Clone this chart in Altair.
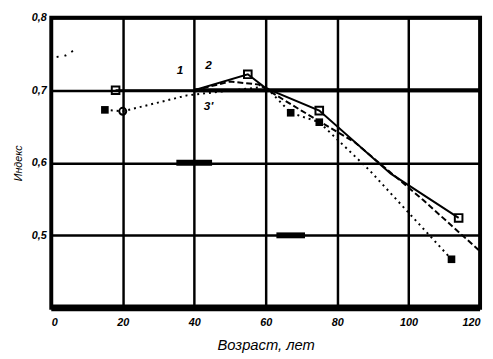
import altair as alt
import pandas as pd

# Curve 1 (solid, open squares)
ages1 = [18, 40, 55, 60, 75, 95, 114]
vals1 = [0.700, 0.700, 0.722, 0.703, 0.672, 0.585, 0.524]
# Curve 2 (dashed)
ages2 = [40, 50, 58, 70, 85, 104, 120]
vals2 = [0.700, 0.712, 0.708, 0.672, 0.628, 0.549, 0.478]
# Curve 3 (dotted, filled squares)
ages3 = [15, 20, 38, 60, 67, 75, 89, 112]
vals3 = [0.673, 0.671, 0.693, 0.705, 0.669, 0.656, 0.590, 0.467]
# short fragment at top-left
agesf = [1.5, 4, 7]
valsf = [0.746, 0.748, 0.757]

open_sq_age = [18, 55, 75, 114]
open_sq_val = [0.700, 0.722, 0.672, 0.524]
fill_sq_age = [15, 67, 75, 112]
fill_sq_val = [0.673, 0.669, 0.656, 0.467]
circ_age = [20]
circ_val = [0.671]

lab_text = ["1", "2", "3'"]
lab_age = [36, 44, 44]
lab_val = [0.728, 0.735, 0.678]

# thick printed segments on the grid
seg_x1 = [40, 35, 63, 0]
seg_x2 = [120, 45, 71, 120]
seg_y = [0.7, 0.6, 0.5, 0.4]
seg_w = [4, 6, 6, 7]

x_ticks = [0, 20, 40, 60, 80, 100, 120]
y_ticks = [0.5, 0.6, 0.7, 0.8]

FONT = "Liberation Sans"

xs = alt.Scale(domain=[0, 120], nice=False)
ys = alt.Scale(domain=[0.4, 0.8], nice=False, zero=False)

def curve(a, v):
    return pd.DataFrame({"age": a, "val": v})

X = alt.X("age:Q", scale=xs,
          axis=alt.Axis(values=x_ticks, title="Возраст, лет", grid=True,
                        labelExpr="datum.value"))
Y = alt.Y("val:Q", scale=ys,
          axis=alt.Axis(values=y_ticks, title="Индекс", grid=True,
                        labelExpr="replace(format(datum.value, '.1f'), '.', ',')"))

c1 = alt.Chart(curve(ages1, vals1)).mark_line(color="black", strokeWidth=2).encode(x=X, y=Y)
c2 = alt.Chart(curve(ages2, vals2)).mark_line(color="black", strokeWidth=2, strokeDash=[6, 3]).encode(x="age:Q", y="val:Q")
c3 = alt.Chart(curve(ages3, vals3)).mark_line(color="black", strokeWidth=2, strokeDash=[2, 4]).encode(x="age:Q", y="val:Q")
cf = alt.Chart(curve(agesf, valsf)).mark_line(color="black", strokeWidth=2, strokeDash=[2, 6]).encode(x="age:Q", y="val:Q")

segs = pd.DataFrame({"x1": seg_x1, "x2": seg_x2, "y": seg_y, "w": seg_w})
seg = alt.Chart(segs).mark_rule(color="black").encode(
    x="x1:Q", x2="x2:Q", y="y:Q",
    strokeWidth=alt.StrokeWidth("w:Q", scale=None))

osq = alt.Chart(curve(open_sq_age, open_sq_val)).mark_point(
    shape="square", filled=False, color="black", size=60, strokeWidth=2, opacity=1).encode(x="age:Q", y="val:Q")
fsq = alt.Chart(curve(fill_sq_age, fill_sq_val)).mark_point(
    shape="square", filled=True, color="black", size=60, opacity=1).encode(x="age:Q", y="val:Q")
circ = alt.Chart(curve(circ_age, circ_val)).mark_point(
    shape="circle", filled=False, color="black", size=50, strokeWidth=2, opacity=1).encode(x="age:Q", y="val:Q")

labs = alt.Chart(pd.DataFrame({"t": lab_text, "age": lab_age, "val": lab_val})).mark_text(
    font=FONT, fontSize=12, fontWeight="bold", fontStyle="italic", color="black").encode(
    x="age:Q", y="val:Q", text="t:N")

chart = alt.layer(c1, seg, c2, c3, cf, osq, fsq, circ, labs).properties(
    width=436, height=295,
    autosize=alt.AutoSizeParams(type="none"),
    padding={"left": 44, "top": 7, "right": 5, "bottom": 45},
).configure_view(
    stroke="black", strokeWidth=4
).configure_axis(
    domain=False, ticks=False, gridColor="black", gridWidth=2.5, gridOpacity=1,
    labelFont=FONT, labelFontSize=11, labelFontWeight="bold", labelFontStyle="italic",
    labelColor="black", titleFont=FONT, titleColor="black", titleFontStyle="italic",
    titleFontWeight="normal",
).configure_axisX(
    labelPadding=9, titleFontSize=15, titlePadding=10,
).configure_axisY(
    labelPadding=5, titleFontSize=11, titlePadding=8,
)

chart.save("out.html", embed_options={"renderer": "svg", "actions": False})
